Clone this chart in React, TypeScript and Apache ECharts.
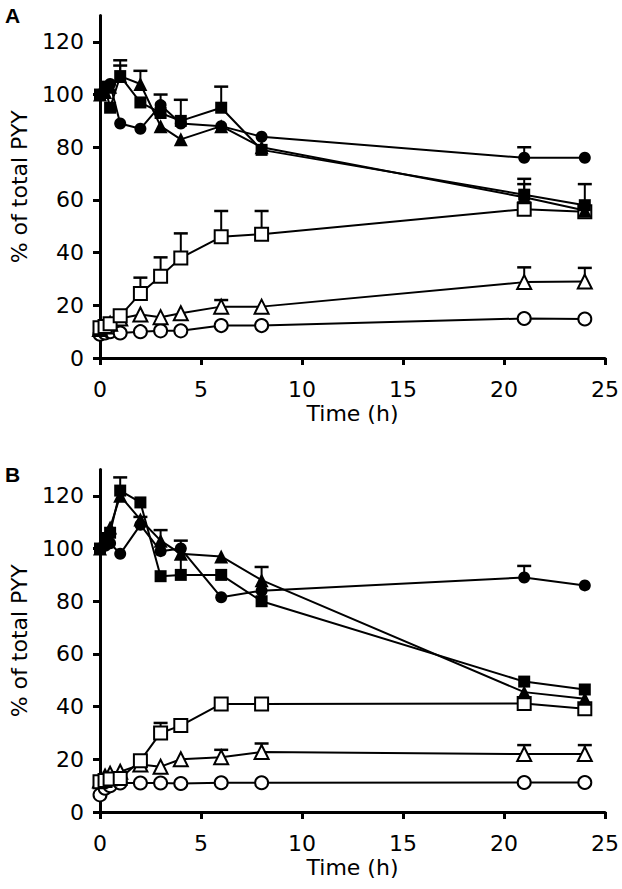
import React, { useEffect, useRef } from "react";
import * as echarts from "echarts";

const times = [0, 0.25, 0.5, 1, 2, 3, 4, 6, 8, 21, 24];
const xTicks = [0, 5, 10, 15, 20, 25];
const yTicks = [0, 20, 40, 60, 80, 100, 120];

// Panel A
const aFilledCircle = [100, 102, 104, 89, 87, 96, 89, 88, 84, 76, 76];
const aFilledCircleErr = [null, null, null, null, null, 100, null, null, null, 80, null];
const aFilledSquare = [100, 103, 95, 107, 97, 93, 90, 95, 79, 62, 58];
const aFilledSquareErr = [null, null, null, 113, null, null, 98, 103, null, 68, 66];
const aFilledTriangle = [100, 101, 103, 107, 104, 88, 83, 88, 80, 61, 56];
const aFilledTriangleErr = [null, null, null, 111, 109, null, null, null, null, 66, null];
const aOpenSquare = [11.5, 12, 13, 16, 24.5, 31, 38, 46, 47, 56.5, 55.5];
const aOpenSquareErr = [null, null, null, null, 30.5, 38.2, 47.3, 55.8, 55.8, 59, null];
const aOpenTriangle = [11, 12, 13, 15, 16.5, 15.5, 17, 19.5, 19.5, 28.8, 29];
const aOpenTriangleErr = [null, null, null, null, null, null, null, 22, null, 34.4, 34.2];
const aOpenCircle = [9, 9.5, 10, 9.5, 10, 10.3, 10.3, 12.3, 12.3, 15, 14.8];

// Panel B
const bFilledCircle = [100, 101, 102, 98, 109, 99, 100, 81.5, 84, 89, 86];
const bFilledCircleErr = [null, null, null, null, null, null, null, null, null, 93.4, null];
const bFilledSquare = [100, 104, 106, 122, 117.5, 89.5, 90, 90, 80, 49.5, 46.5];
const bFilledSquareErr = [null, null, null, 127, null, null, 103, null, 93, null, null];
const bFilledTriangle = [100, 104, 108, 120, 111, 103, 98, 97, 88, 45.5, 43];
const bFilledTriangleErr = [null, null, null, null, 112, 107, null, null, null, null, null];
const bOpenSquare = [11.5, 12, 12.5, 12.7, 19.5, 30, 32.8, 41, 41, 41.2, 39.2];
const bOpenSquareErr = [null, null, null, null, null, 33.8, null, null, null, null, null];
const bOpenTriangle = [12, 13.5, 14.5, 15.3, 18, 17.2, 20, 20.8, 22.8, 22, 22];
const bOpenTriangleErr = [null, null, null, null, null, null, null, 23.6, 26, 25.4, 25.4];
const bOpenCircle = [6.5, 9, 10, 11, 11, 11, 10.8, 11.1, 11.1, 11.2, 11.2];

const FONT = "DejaVu Sans";

function pairs(vals: number[]) {
  return times.map((t, i) => [t, vals[i]]);
}

function errTriples(vals: number[], errs: (number | null)[]) {
  const out: number[][] = [];
  times.forEach((t, i) => {
    if (errs[i] != null) out.push([t, vals[i], errs[i] as number]);
  });
  return out;
}

function lineSeries(idx: number, vals: number[], symbol: string, filled: boolean, size: number) {
  return {
    type: "line",
    xAxisIndex: idx,
    yAxisIndex: idx,
    data: pairs(vals),
    symbol,
    symbolSize: size,
    showAllSymbol: true,
    z: filled ? 4 : 3,
    lineStyle: { color: "#000", width: 2 },
    itemStyle: filled
      ? { color: "#000", borderColor: "#000", borderWidth: 0 }
      : { color: "#fff", borderColor: "#000", borderWidth: 2 },
    emphasis: { disabled: true },
  };
}

function errSeries(idx: number, data: number[][]) {
  return {
    type: "custom",
    xAxisIndex: idx,
    yAxisIndex: idx,
    z: 2,
    data,
    renderItem: (params: any, api: any) => {
      const x = api.value(0);
      const lo = api.value(1);
      const hi = api.value(2);
      const p0 = api.coord([x, lo]);
      const p1 = api.coord([x, hi]);
      const cap = 7;
      return {
        type: "group",
        children: [
          {
            type: "line",
            shape: { x1: p0[0], y1: p0[1], x2: p1[0], y2: p1[1] },
            style: { stroke: "#000", lineWidth: 2 },
          },
          {
            type: "line",
            shape: { x1: p1[0] - cap, y1: p1[1], x2: p1[0] + cap, y2: p1[1] },
            style: { stroke: "#000", lineWidth: 2.5 },
          },
        ],
      };
    },
  };
}

function panelSeries(
  idx: number,
  fc: number[], fcE: (number | null)[],
  fs: number[], fsE: (number | null)[],
  ft: number[], ftE: (number | null)[],
  os: number[], osE: (number | null)[],
  ot: number[], otE: (number | null)[],
  oc: number[]
) {
  const errs = [
    ...errTriples(fc, fcE),
    ...errTriples(fs, fsE),
    ...errTriples(ft, ftE),
    ...errTriples(os, osE),
    ...errTriples(ot, otE),
  ];
  return [
    errSeries(idx, errs),
    lineSeries(idx, oc, "circle", false, 13),
    lineSeries(idx, ot, "triangle", false, 14),
    lineSeries(idx, os, "rect", false, 13),
    lineSeries(idx, ft, "triangle", true, 14),
    lineSeries(idx, fc, "circle", true, 12),
    lineSeries(idx, fs, "rect", true, 12),
  ];
}

function xAxisCfg(idx: number) {
  return {
    type: "value",
    gridIndex: idx,
    min: 0,
    max: 25,
    interval: 5,
    name: "Time (h)",
    nameLocation: "middle",
    nameGap: 44,
    nameTextStyle: { fontFamily: FONT, fontSize: 22, color: "#000" },
    axisLine: { show: true, onZero: true, lineStyle: { color: "#000", width: 3 } },
    axisTick: { show: true, length: 7, lineStyle: { color: "#000", width: 3 } },
    axisLabel: { fontFamily: FONT, fontSize: 22, color: "#000", margin: 20 },
    splitLine: { show: false },
  };
}

function yAxisCfg(idx: number) {
  return {
    type: "value",
    gridIndex: idx,
    min: 0,
    max: 130,
    interval: 20,
    name: "% of total PYY",
    nameLocation: "middle",
    nameGap: 70,
    nameTextStyle: { fontFamily: FONT, fontSize: 22, color: "#000" },
    axisLine: { show: true, lineStyle: { color: "#000", width: 3 } },
    axisTick: { show: true, length: 7, lineStyle: { color: "#000", width: 3 }, customValues: yTicks },
    axisLabel: {
      fontFamily: FONT,
      fontSize: 22,
      color: "#000",
      margin: 16,
      customValues: yTicks,
      formatter: (v: number) => (v > 120 ? "" : String(v)),
    },
    splitLine: { show: false },
  };
}

export default function App() {
  const ref = useRef<HTMLDivElement>(null);
  useEffect(() => {
    if (!ref.current) return;
    const chart = echarts.init(ref.current, null, { renderer: "svg" });
    chart.setOption({
      animation: false,
      backgroundColor: "#fff",
      grid: [
        { left: 94, top: 15.5, width: 515, height: 342.5 },
        { left: 94, top: 469.5, width: 515, height: 342.5 },
      ],
      xAxis: [xAxisCfg(0), xAxisCfg(1)],
      yAxis: [yAxisCfg(0), yAxisCfg(1)],
      graphic: [
        {
          type: "text",
          left: 5,
          top: 5,
          style: { text: "A", fontFamily: "Liberation Sans", fontWeight: "bold", fontSize: 21, fill: "#000" },
        },
        {
          type: "text",
          left: 5,
          top: 464,
          style: { text: "B", fontFamily: "Liberation Sans", fontWeight: "bold", fontSize: 21, fill: "#000" },
        },
      ],
      series: [
        ...panelSeries(
          0,
          aFilledCircle, aFilledCircleErr,
          aFilledSquare, aFilledSquareErr,
          aFilledTriangle, aFilledTriangleErr,
          aOpenSquare, aOpenSquareErr,
          aOpenTriangle, aOpenTriangleErr,
          aOpenCircle
        ),
        ...panelSeries(
          1,
          bFilledCircle, bFilledCircleErr,
          bFilledSquare, bFilledSquareErr,
          bFilledTriangle, bFilledTriangleErr,
          bOpenSquare, bOpenSquareErr,
          bOpenTriangle, bOpenTriangleErr,
          bOpenCircle
        ),
      ],
    });
    return () => chart.dispose();
  }, []);
  return (
    <div
      ref={ref}
      style={{ position: "absolute", left: 0, top: 0, width: 622, height: 889, background: "#fff" }}
    />
  );
}
